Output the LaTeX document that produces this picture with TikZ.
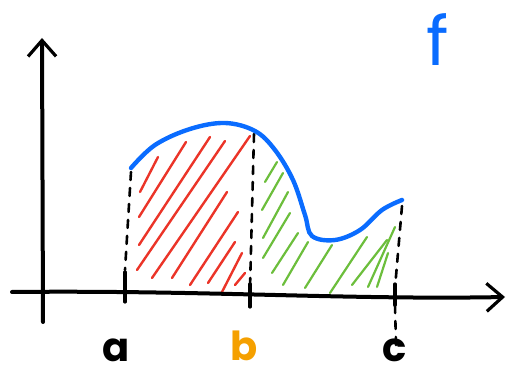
\documentclass[tikz,border=0pt]{standalone}
\usepackage{fontspec}
\setmainfont{Poppins}
\usepackage{xcolor}
\usepackage{tikz}
\usetikzlibrary{arrows.meta}
\definecolor{curveblue}{RGB}{10,108,255}
\definecolor{hatchred}{RGB}{235,52,40}
\definecolor{hatchgreen}{RGB}{108,190,60}
\definecolor{labelorange}{RGB}{245,160,0}
\tikzset{
axis/.style={line width=2pt,line cap=round,-{Straight Barb[length=8pt,width=14pt,line width=1.6pt]}},
tick/.style={line width=1.6pt,line cap=round},
guide/.style={line width=1.3pt,dash pattern=on 4pt off 4pt,line cap=round},
redhatch/.style={hatchred,line width=1.2pt,line cap=round},
greenhatch/.style={hatchgreen,line width=1.1pt,line cap=round},
lbl/.style={inner sep=0pt,font=\bfseries\fontsize{20}{20}\selectfont}
}
\begin{document}
\begin{tikzpicture}[x=0.5pt,y=-0.5pt]
\useasboundingbox (0,0) rectangle (514,373);
% hatching
\foreach \xa/\ya/\xb/\yb in {158/157/140/192,186/142/139/217,210/137/139/245,225/141/137/270,
250/136/152/278,227/192/172/278,238/212/190/285,235/242/208/283,242/253/222/292,245/273/235/285}
\draw[redhatch](\xa,\ya)--(\xb,\yb);
\foreach \xa/\ya/\xb/\yb in {277/162/265/182,283/173/262/210,288/192/263/238,290/213/263/258,
298/233/272/273,308/242/283/285,332/245/305/288,367/237/330/293,387/240/352/285,395/227/368/287,
388/253/377/287}
\draw[greenhatch](\xa,\ya)--(\xb,\yb);
% guides
\draw[guide](131,172)--(125,270);
\draw[guide](254,134)--(250,288);
\draw[guide](402,206)--(395,288);
\draw[guide](395,305)--(396,345);
% axes
\coordinate(o)at(43,322);
\coordinate(ytop)at(42,38);
\coordinate(xl)at(12,292);
\coordinate(xr)at(505,297);
\draw[axis](o)--(ytop);
\draw[axis](xl)..controls(200,290)and(350,300)..(xr);
\draw[tick](125,272)--(125,302) (250,284)--(250,307) (395,284)--(395,305);
% curve
\draw[curveblue,line width=2.2pt,line cap=round]plot[smooth,tension=0.6]coordinates{
(131,168)(155,145)(190,129)(225,123)(255,131)(275,150)(293,180)(305,215)(312,236)(335,240)(360,230)(382,210)(402,200)};
% labels
\node[lbl](la)at(116,350){a};
\node[lbl,text=labelorange](lb)at(244,346){b};
\node[lbl](lc)at(395,350){c};
\node[lbl,text=curveblue,font=\fontsize{34}{34}\selectfont](lf)at(438,40){f};
\end{tikzpicture}
\end{document}
